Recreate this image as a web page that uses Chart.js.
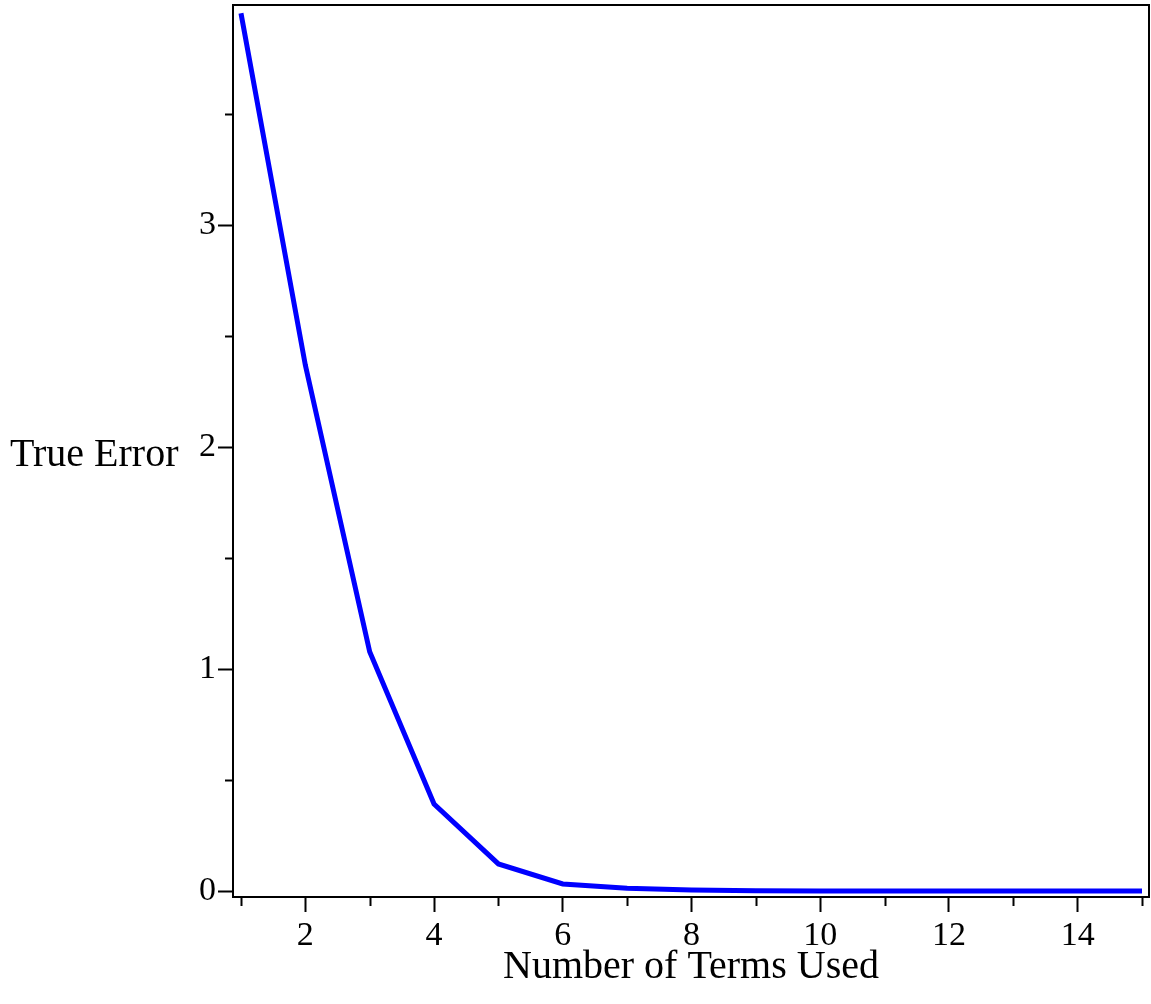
<!DOCTYPE html>
<html>
<head>
<meta charset="utf-8">
<title>True Error vs Number of Terms Used</title>
<script src="https://cdn.jsdelivr.net/npm/chart.js@4.4.1/dist/chart.umd.min.js"></script>
<style>
  html, body { margin: 0; padding: 0; background: #fff; }
  canvas { display: block; }
</style>
</head>
<body>
<canvas id="errChart" width="1151" height="1004"></canvas>
<script>
// ===================================
// Data
// ===================================
const terms = [1, 2, 3, 4, 5, 6, 7, 8, 9, 10, 11, 12, 13, 14, 15];
const trueError = [3.954, 2.369, 1.078, 0.392, 0.122, 0.032, 0.012, 0.004, 0.001, 0.0003, 0.0001, 0, 0, 0, 0];
const xTicks = [1, 2, 3, 4, 5, 6, 7, 8, 9, 10, 11, 12, 13, 14, 15];
const xLabels = [2, 4, 6, 8, 10, 12, 14];
const yTicks = [0, 0.5, 1, 1.5, 2, 2.5, 3, 3.5];
const yLabels = [0, 1, 2, 3];
const xTitle = 'Number of Terms Used';
const yTitle = 'True Error';

const serif = "'Liberation Serif', 'Times New Roman', serif";

// frame + minor ticks + horizontal axis titles
const maplePlot = {
    id: 'maplePlot',
    afterDraw(chart) {
        const ctx = chart.ctx;
        const a = chart.chartArea;
        const xs = chart.scales.x;
        const ys = chart.scales.y;
        ctx.save();
        ctx.strokeStyle = '#000';
        ctx.lineWidth = 2;
        ctx.strokeRect(a.left, a.top, a.right - a.left, a.bottom - a.top);

        // minor ticks (short)
        xTicks.forEach(v => {
            if (xLabels.includes(v)) return;
            const px = Math.round(xs.getPixelForValue(v)) + 0.5;
            ctx.beginPath();
            ctx.moveTo(px, a.bottom);
            ctx.lineTo(px, a.bottom + 9);
            ctx.stroke();
        });
        yTicks.forEach(v => {
            if (yLabels.includes(v)) return;
            const py = Math.round(ys.getPixelForValue(v)) + 0.5;
            ctx.beginPath();
            ctx.moveTo(a.left, py);
            ctx.lineTo(a.left - 8, py);
            ctx.stroke();
        });

        ctx.fillStyle = '#000';
        ctx.font = '40px ' + serif;
        ctx.textAlign = 'center';
        ctx.textBaseline = 'alphabetic';
        ctx.fillText(xTitle, (a.left + a.right) / 2, 978);
        ctx.textAlign = 'left';
        ctx.textBaseline = 'middle';
        ctx.fillText(yTitle, 10, (a.top + a.bottom) / 2 + 4);
        ctx.restore();
    }
};

const isMajor = (list) => (c) => list.includes(c.tick.value) ? '#000' : 'rgba(0,0,0,0)';

new Chart(document.getElementById('errChart'), {
    type: 'line',
    data: {
        labels: terms,
        datasets: [{
            data: terms.map((t, i) => ({ x: t, y: trueError[i] })),
            borderColor: '#0000ff',
            borderWidth: 5,
            pointRadius: 0,
            tension: 0,
            fill: false
        }]
    },
    options: {
        responsive: false,
        animation: false,
        layout: { padding: { left: 0, top: 5, right: 2, bottom: 0 } },
        plugins: {
            legend: { display: false },
            tooltip: { enabled: false }
        },
        scales: {
            x: {
                type: 'linear',
                min: 0.876,
                max: 15.109,
                afterBuildTicks: s => { s.ticks = xTicks.map(v => ({ value: v })); },
                afterFit: s => { s.height = 107; s.paddingLeft = 0; s.paddingRight = 0; },
                grid: {
                    drawOnChartArea: false,
                    tickLength: 15,
                    tickWidth: 2,
                    tickColor: isMajor(xLabels)
                },
                border: { display: true, color: '#000', width: 2 },
                ticks: {
                    autoSkip: false,
                    maxRotation: 0,
                    padding: 4,
                    color: '#000',
                    font: { family: serif, size: 34 },
                    callback: v => xLabels.includes(v) ? String(v) : ''
                }
            },
            y: {
                min: -0.027,
                max: 3.991,
                afterBuildTicks: s => { s.ticks = yTicks.map(v => ({ value: v })); },
                afterFit: s => { s.width = 233; s.paddingTop = 0; s.paddingBottom = 0; },
                grid: {
                    drawOnChartArea: false,
                    tickLength: 15,
                    tickWidth: 2,
                    tickColor: isMajor(yLabels)
                },
                border: { display: true, color: '#000', width: 2 },
                ticks: {
                    autoSkip: false,
                    padding: 2,
                    color: '#000',
                    font: { family: serif, size: 34 },
                    callback: v => yLabels.includes(v) ? String(v) : ''
                }
            }
        }
    },
    plugins: [maplePlot]
});
</script>
</body>
</html>
